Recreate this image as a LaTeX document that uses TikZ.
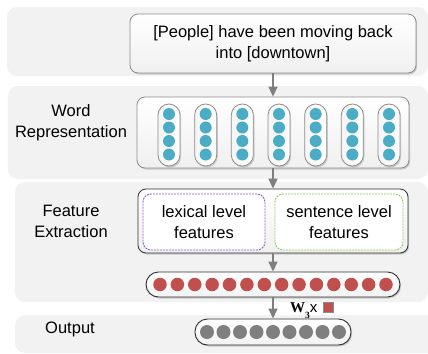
\documentclass[tikz,border=0pt]{standalone}
\usepackage{fontspec}
\setmainfont{Liberation Sans}
\newfontfamily\serifb{Liberation Serif}
\usetikzlibrary{arrows.meta,shadows}
\definecolor{panelgray}{HTML}{F2F2F2}
\definecolor{boxborder}{HTML}{8C8C8C}
\definecolor{darkborder}{HTML}{303030}
\definecolor{tealdot}{HTML}{4BACC6}
\definecolor{reddot}{HTML}{C0504D}
\definecolor{graydot}{HTML}{7F7F7F}
\definecolor{arrowgray}{HTML}{7F7F7F}
\definecolor{lexpurple}{HTML}{8A5CC8}
\definecolor{sengreen}{HTML}{95CC58}
\tikzset{
  lbl/.style={font=\fontsize{16.5bp}{21bp}\selectfont, align=center, inner sep=0pt},
  panel/.style={rectangle, fill=panelgray, draw=none, rounded corners=10bp, inner sep=0pt},
  softshadow/.style={drop shadow={shadow xshift=1.2bp, shadow yshift=-1.5bp, opacity=0.16, fill=black}},
  box/.style={rectangle, draw=boxborder, line width=0.8bp, rounded corners=8bp, inner sep=0pt,
    top color=white, bottom color=black!6, softshadow},
  darkbox/.style={box, draw=darkborder},
  pill/.style={rectangle, draw=boxborder, line width=0.8bp, rounded corners=11bp, inner sep=0pt,
    left color=black!4, right color=white, softshadow, minimum width=22bp, minimum height=62bp},
  bar/.style={rectangle, draw=darkborder, line width=0.9bp, rounded corners=12.5bp, inner sep=0pt,
    top color=white, bottom color=black!5, softshadow},
  dashbox/.style={rectangle, line width=0.9bp, dash pattern=on 2bp off 1bp, rounded corners=8bp,
    fill=white, inner sep=0pt, minimum width=#1, minimum height=56bp, lbl},
  dot/.style={circle, fill=#1, draw=none, inner sep=0pt},
  arr/.style={draw=arrowgray, line width=1.5bp, -{Triangle[width=9bp,length=10bp]}},
}
\begin{document}
\begin{tikzpicture}[x=1bp, y=-1bp]
\clip (0,0) rectangle (428,354);
\fill[white] (0,0) rectangle (428,354);
% panels
\node[panel, minimum width=421bp, minimum height=69bp] (p1) at (217.5,41.5) {};
\node[panel, minimum width=420bp, minimum height=93bp] (p2) at (218,132.5) {};
\node[panel, minimum width=413bp, minimum height=120bp] (p3) at (221.5,242) {};
\node[panel, minimum width=430bp, minimum height=38bp] (p4) at (230,334) {};
% labels
\node[lbl] (lwr) at (71,123) {Word\\Representation};
\node[lbl] (lfe) at (71,221.5) {Feature\\Extraction};
\node[lbl] (lout) at (70,329) {Output};
% sentence
\node[box, lbl, minimum width=286bp, minimum height=59bp] (sent) at (273,43.5)
  {[People] have been moving back\\into [downtown]};
% word representation
\node[box, minimum width=272bp, minimum height=71bp] (wr) at (273,132.5) {};
\foreach \i in {0,...,6} {
  \pgfmathsetmacro{\px}{169+36.667*\i}
  \node[pill] (pill\i) at (\px,135) {};
  \foreach \j/\yy in {0/114,1/127.5,2/141,3/154.5}
    \node[dot=tealdot, minimum size=12bp] (w\i d\j) at (\px,\yy) {};
}
% feature extraction
\node[darkbox, minimum width=270bp, minimum height=64bp] (fe) at (273,221) {};
\node[dashbox=122bp, draw=lexpurple] (lex) at (204,222) {lexical level\\features};
\node[dashbox=128bp, draw=sengreen] (sen) at (339,222) {sentence level\\features};
% red bar
\node[bar, minimum width=254bp, minimum height=25bp] (rb) at (273,284.5) {};
\foreach \i in {0,...,13} {
  \pgfmathsetmacro{\px}{160+17.385*\i}
  \node[dot=reddot, minimum size=13.5bp] (r\i) at (\px,284.5) {};
}
% gray bar
\node[bar, minimum width=156bp, minimum height=26bp] (gb) at (273,332) {};
\foreach \i in {0,...,8} {
  \pgfmathsetmacro{\px}{207+16.5*\i}
  \node[dot=graydot, minimum size=14bp] (g\i) at (\px,332) {};
}
% arrows
\draw[arr] (sent.south) -- (wr.north);
\draw[arr] (wr.south) -- (fe.north);
\draw[arr] (fe.south) -- (rb.north);
\draw[arr] (rb.south) -- (gb.north);
% W3 label
\node[anchor=base west, inner sep=0pt, font=\fontsize{15bp}{15bp}\selectfont] (w3) at (290,312)
  {{\serifb\bfseries W}\raisebox{-6.5bp}{\serifb\bfseries\fontsize{9.5bp}{9.5bp}\selectfont 3}x};
\node[rectangle, fill=reddot, draw=boxborder, line width=0.6bp, minimum size=10bp, inner sep=0pt] (sq) at (328,307) {};
\end{tikzpicture}
\end{document}
